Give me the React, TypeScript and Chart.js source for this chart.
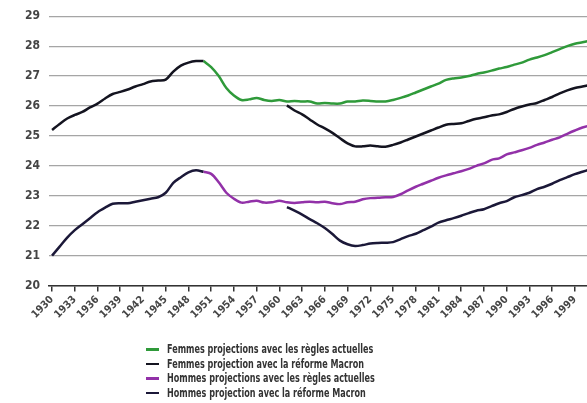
import React, { useEffect, useRef } from "react";
import { Chart, registerables } from "chart.js";

Chart.register(...registerables);

const years: number[] = [
  1930, 1931, 1932, 1933, 1934, 1935, 1936, 1937, 1938, 1939,
  1940, 1941, 1942, 1943, 1944, 1945, 1946, 1947, 1948, 1949,
  1950, 1951, 1952, 1953, 1954, 1955, 1956, 1957, 1958, 1959,
  1960, 1961, 1962, 1963, 1964, 1965, 1966, 1967, 1968, 1969,
  1970, 1971, 1972, 1973, 1974, 1975, 1976, 1977, 1978, 1979,
  1980, 1981, 1982, 1983, 1984, 1985, 1986, 1987, 1988, 1989,
  1990, 1991, 1992, 1993, 1994, 1995, 1996, 1997, 1998, 1999,
  2000, 2001,
];

const tickYears: number[] = [
  1930, 1933, 1936, 1939, 1942, 1945, 1948, 1951, 1954, 1957, 1960, 1963,
  1966, 1969, 1972, 1975, 1978, 1981, 1984, 1987, 1990, 1993, 1996, 1999,
];

const yTicks: number[] = [20, 21, 22, 23, 24, 25, 26, 27, 28, 29];

// Femmes, règles actuelles (starts 1950)
const femmesActuelles: (number | null)[] = [
  null, null, null, null, null, null, null, null, null, null,
  null, null, null, null, null, null, null, null, null, null,
  27.5, 27.3, 27.0, 26.6, 26.35, 26.2, 26.22, 26.27, 26.2, 26.17,
  26.2, 26.15, 26.17, 26.15, 26.15, 26.08, 26.1, 26.08, 26.08, 26.15,
  26.15, 26.18, 26.17, 26.15, 26.15, 26.2, 26.27, 26.35, 26.45, 26.55,
  26.65, 26.75, 26.87, 26.92, 26.95, 27.0, 27.07, 27.12, 27.18, 27.25,
  27.3, 27.38, 27.45, 27.55, 27.62, 27.7, 27.8, 27.9, 28.0, 28.08,
  28.13, 28.18,
];

// Femmes, historique (1930-1950) + réforme Macron (from 1961)
const femmesMacron: (number | null)[] = [
  25.2, 25.4, 25.58, 25.7, 25.8, 25.95, 26.08, 26.25, 26.4, 26.47,
  26.55, 26.65, 26.73, 26.82, 26.85, 26.88, 27.15, 27.35, 27.45, 27.5,
  27.5, null, null, null, null, null, null, null, null, null,
  null, 26.02, 25.85, 25.72, 25.55, 25.38, 25.25, 25.1, 24.92, 24.75,
  24.65, 24.65, 24.68, 24.65, 24.64, 24.7, 24.78, 24.88, 24.98, 25.08,
  25.18, 25.28, 25.37, 25.4, 25.42, 25.5, 25.57, 25.62, 25.68, 25.72,
  25.8, 25.9, 25.98, 26.05, 26.1, 26.2, 26.3, 26.42, 26.52, 26.6,
  26.65, 26.7,
];

// Hommes, règles actuelles (starts 1950)
const hommesActuelles: (number | null)[] = [
  null, null, null, null, null, null, null, null, null, null,
  null, null, null, null, null, null, null, null, null, null,
  23.8, 23.73, 23.45, 23.1, 22.9, 22.77, 22.8, 22.83, 22.77, 22.78,
  22.83, 22.78, 22.76, 22.78, 22.8, 22.78, 22.8, 22.75, 22.72, 22.78,
  22.8, 22.88, 22.92, 22.93, 22.95, 22.96, 23.05, 23.18, 23.3, 23.4,
  23.5, 23.6, 23.68, 23.75, 23.82, 23.9, 24.0, 24.08, 24.2, 24.25,
  24.38, 24.45, 24.52, 24.6, 24.7, 24.78, 24.87, 24.95, 25.07, 25.18,
  25.28, 25.35,
];

// Hommes, historique (1930-1950) + réforme Macron (from 1961)
const hommesMacron: (number | null)[] = [
  21.0, 21.3, 21.6, 21.85, 22.05, 22.25, 22.45, 22.6, 22.73, 22.75,
  22.75, 22.8, 22.85, 22.9, 22.95, 23.1, 23.43, 23.62, 23.78, 23.85,
  23.8, null, null, null, null, null, null, null, null, null,
  null, 22.62, 22.5, 22.37, 22.22, 22.08, 21.92, 21.72, 21.5, 21.38,
  21.32, 21.35, 21.4, 21.42, 21.43, 21.45, 21.55, 21.65, 21.73, 21.85,
  21.97, 22.1, 22.18, 22.25, 22.33, 22.42, 22.5, 22.55, 22.65, 22.75,
  22.82, 22.95, 23.02, 23.1, 23.22, 23.3, 23.4, 23.52, 23.62, 23.72,
  23.8, 23.88,
];

const seriesLabels: string[] = [
  "Femmes projections avec les règles actuelles",
  "Femmes projection avec la réforme Macron",
  "Hommes projections avec les règles actuelles",
  "Hommes projection avec la réforme Macron",
];

const seriesColors: string[] = ["#2f9a3a", "#141420", "#9231a8", "#1b1838"];

const FONT = "'DejaVu Sans Condensed', 'Liberation Sans Narrow', sans-serif";

export default function App() {
  const ref = useRef<HTMLCanvasElement | null>(null);

  useEffect(() => {
    if (!ref.current) return;
    const allSeries = [femmesActuelles, femmesMacron, hommesActuelles, hommesMacron];
    const chart = new Chart(ref.current, {
      type: "line",
      data: {
        datasets: allSeries.map((s, i) => ({
          label: seriesLabels[i],
          data: years.map((yr, j) => ({ x: yr, y: s[j] })),
          borderColor: seriesColors[i],
          backgroundColor: seriesColors[i],
          borderWidth: 2.5,
          pointRadius: 0,
          tension: 0.3,
          spanGaps: false,
          fill: false,
        })),
      },
      options: {
        animation: false,
        responsive: false,
        maintainAspectRatio: false,
        layout: { padding: { top: 0, left: 16, right: 0, bottom: 80 } },
        plugins: { legend: { display: false }, tooltip: { enabled: false } },
        scales: {
          x: {
            type: "linear",
            min: 1929.6,
            max: 2000.6,
            afterBuildTicks: (scale: any) => {
              scale.ticks = tickYears.map((v) => ({ value: v }));
            },
            ticks: {
              autoSkip: false,
              minRotation: 45,
              maxRotation: 45,
              padding: 2,
              color: "#454545",
              font: { family: FONT, size: 10.5, weight: "bold" },
              callback: (v: any) => String(v),
            },
            grid: {
              drawOnChartArea: false,
              drawTicks: true,
              tickLength: 6,
              color: "#333333",
              lineWidth: 1.5,
            },
            border: { display: true, color: "#333333", width: 1.5 },
          },
          y: {
            type: "linear",
            min: 20,
            max: 29,
            afterBuildTicks: (scale: any) => {
              scale.ticks = yTicks.map((v) => ({ value: v }));
            },
            ticks: {
              color: "#454545",
              padding: 9,
              font: { family: FONT, size: 12, weight: "bold" },
              callback: (v: any) => String(v),
            },
            grid: { drawTicks: false, color: "#a5a5a5", lineWidth: 1.2 },
            border: { display: false },
          },
        },
      },
    });
    return () => chart.destroy();
  }, []);

  return (
    <div style={{ position: "fixed", left: 0, top: 0, width: 587, height: 403, background: "#fff", overflow: "hidden" }}>
      <canvas ref={ref} width={587} height={403} style={{ display: "block" }} />
      <div style={{ position: "absolute", left: 146, top: 342, fontFamily: FONT, fontSize: 13, fontWeight: "bold", color: "#333333", lineHeight: "14.5px" }}>
        {seriesLabels.map((l, i) => (
          <div key={i} style={{ display: "flex", alignItems: "center", whiteSpace: "nowrap" }}>
            <span style={{ display: "inline-block", width: 13, height: 2.5, background: seriesColors[i], marginRight: 8 }} />
            <span style={{ display: "inline-block", transform: "scaleX(0.69)", transformOrigin: "left center" }}>{l}</span>
          </div>
        ))}
      </div>
    </div>
  );
}
